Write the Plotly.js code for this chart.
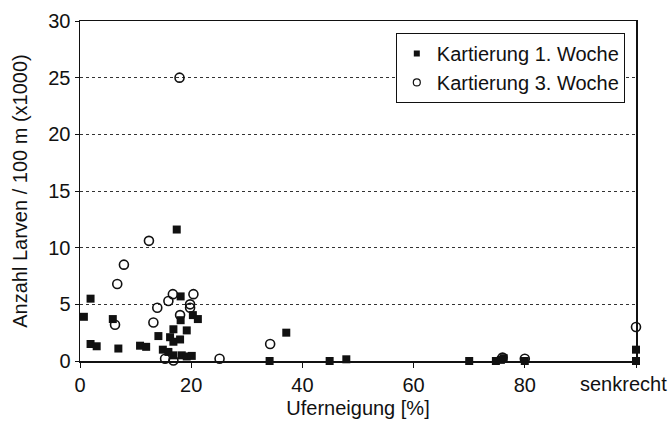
<!DOCTYPE html>
<html>
<head>
<meta charset="utf-8">
<script src="https://cdn.plot.ly/plotly-3.0.1.min.js"></script>
<style>html,body{margin:0;padding:0;background:#fff;}#chart{width:672px;height:441px;}</style>
</head>
<body>
<div id="chart"></div>
<script>
// Kartierung 1. Woche (filled squares)
const week1X = [0.7, 1.9, 1.9, 3.0, 5.9, 6.9, 10.8, 11.9, 14.1, 14.9, 15.9, 16.8, 16.2, 16.8, 18.0, 17.4, 18.1, 18.1, 19.2, 20.3, 21.2, 16.8, 18.3, 19.2, 20.1, 34.1, 37.1, 44.9, 47.9, 70, 74.8, 75.7, 76.2, 80, 100, 100];
const week1Y = [3.9, 5.5, 1.5, 1.3, 3.7, 1.1, 1.35, 1.25, 2.2, 1.0, 0.8, 2.8, 2.1, 1.7, 1.9, 11.6, 5.7, 3.6, 2.7, 4.05, 3.7, 0.5, 0.5, 0.4, 0.45, 0, 2.5, 0, 0.15, 0, 0, 0.1, 0.25, 0, 0, 1.0];
// Kartierung 3. Woche (open circles)
const week3X = [6.3, 6.7, 7.9, 12.4, 13.2, 13.9, 15.3, 15.9, 16.7, 16.8, 17.9, 18.0, 19.8, 19.8, 20.4, 25.1, 34.2, 76, 80, 100];
const week3Y = [3.2, 6.8, 8.5, 10.6, 3.4, 4.7, 0.2, 5.3, 5.9, 0.05, 25, 4.05, 5.0, 4.7, 5.9, 0.2, 1.5, 0.3, 0.2, 3.0];

const seriesNames = ['Kartierung 1. Woche', 'Kartierung 3. Woche'];
const xTickVals = [0, 20, 40, 60, 80, 100];
const xTickText = ['0', '20', '40', '60', '80', 'senkrecht'];
const yTickVals = [0, 5, 10, 15, 20, 25, 30];

const fam = 'Liberation Sans, Arial, sans-serif';
const ink = '#111';

const sqMarker = {symbol: 'square', size: 8, color: ink, line: {width: 0}};
const ciMarker = {symbol: 'circle-open', size: 9, color: ink, line: {width: 1.6, color: ink}};

const traces = [
  {x: week1X, y: week1Y, type: 'scatter', mode: 'markers', name: seriesNames[0], showlegend: false,
   marker: sqMarker, cliponaxis: false},
  {x: week3X, y: week3Y, type: 'scatter', mode: 'markers', name: seriesNames[1], showlegend: false,
   marker: ciMarker, cliponaxis: false},
  // legend-only entries with the smaller legend symbols
  {x: [null], y: [null], type: 'scatter', mode: 'markers', name: seriesNames[0], legendgroup: 'a',
   marker: {symbol: 'square', size: 6, color: ink, line: {width: 0}}},
  {x: [null], y: [null], type: 'scatter', mode: 'markers', name: seriesNames[1], legendgroup: 'b',
   marker: {symbol: 'circle-open', size: 7, color: ink, line: {width: 1.2, color: ink}}}
];

// the last tick label sits left of its tick in the reference, so it is drawn as an annotation at that tick
const lastIdx = xTickVals.length - 1;
const shownTickText = xTickText.map((t, i) => i === lastIdx ? '' : t);

const layout = {
  width: 672, height: 441,
  margin: {l: 80, r: 36, t: 21, b: 80},
  paper_bgcolor: '#fff', plot_bgcolor: '#fff',
  font: {family: fam, color: ink, size: 20},
  showlegend: true,
  legend: {x: 0.568, y: 0.965, xanchor: 'left', yanchor: 'top', bgcolor: '#fff', bordercolor: ink, borderwidth: 1,
           font: {family: fam, size: 20, color: ink}, traceorder: 'grouped', tracegroupgap: 0, itemwidth: 30},
  xaxis: {range: [0, 100], tickvals: xTickVals, ticktext: shownTickText, showgrid: false, zeroline: false,
          showline: true, linecolor: ink, linewidth: 1.5, mirror: true, ticks: 'outside', ticklen: 5, tickcolor: ink,
          tickfont: {family: fam, size: 20, color: ink},
          title: {text: 'Uferneigung [%]', font: {family: fam, size: 20, color: ink}, standoff: 6}},
  yaxis: {range: [0, 30], tickvals: yTickVals, showgrid: true, gridcolor: '#333', griddash: 'dot', gridwidth: 1,
          zeroline: false, showline: true, linecolor: ink, linewidth: 1.5, mirror: true, ticks: 'outside', ticklen: 4, tickcolor: ink,
          tickfont: {family: fam, size: 20, color: ink},
          title: {text: 'Anzahl Larven / 100 m (x1000)', font: {family: fam, size: 20, color: ink}, standoff: 15}},
  annotations: [{
    text: xTickText[lastIdx], x: xTickVals[lastIdx], xref: 'x', y: 0, yref: 'paper',
    xanchor: 'center', yanchor: 'top', xshift: -13, yshift: -10, showarrow: false,
    font: {family: fam, size: 20, color: ink}
  }]
};

Plotly.newPlot('chart', traces, layout, {staticPlot: true, displayModeBar: false});
</script>
</body>
</html>
